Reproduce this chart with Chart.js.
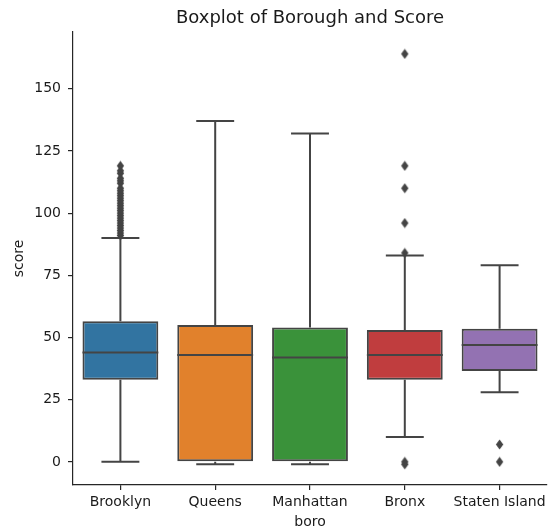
<!DOCTYPE html>
<html>
<head>
<meta charset="utf-8">
<script src="https://cdn.jsdelivr.net/npm/chart.js@4.4.1/dist/chart.umd.min.js"></script>
<style>
  html, body { margin: 0; padding: 0; background: #ffffff; }
  #wrap { width: 553px; height: 529px; }
</style>
</head>
<body>
<div id="wrap"><canvas id="chart" width="553" height="529"></canvas></div>
<script>
// Inspection scores by borough: five-number summaries and fliers
const categories = ['Brooklyn', 'Queens', 'Manhattan', 'Bronx', 'Staten Island'];
const whiskerLow  = [0, -1, -1, 10, 28];
const q1          = [33, 0, 0, 33, 36.5];
const median      = [44, 43, 42, 43, 47];
const q3          = [56.5, 55, 54, 53, 53.5];
const whiskerHigh = [90, 137, 132, 83, 79];

const outliersBrooklyn = [91, 92, 93, 94, 95, 96, 97, 98, 99, 100, 101, 102, 103, 104, 105, 106, 107, 108, 109, 110, 112, 113, 114, 116, 117, 119];
const outliersQueens = [];
const outliersManhattan = [];
const outliersBronx = [164, 119, 110, 96, 84, 0, -1];
const outliersStaten = [7, 0];

const yTicks = [0, 25, 50, 75, 100, 125, 150];
const yMin = -9.3;
const yMax = 172.8;

const boxColors = ['#3274a1', '#e1812c', '#3a923a', '#c03d3e', '#9372b2'];
const lineGray = '#444444';
const axisColor = '#262626';
const fontFamily = '"DejaVu Sans", Verdana, sans-serif';

const outlierGroups = [outliersBrooklyn, outliersQueens, outliersManhattan, outliersBronx, outliersStaten];
const outlierPoints = [];
outlierGroups.forEach((vals, i) => vals.forEach(v => outlierPoints.push({ x: categories[i], y: v })));

// thin diamond marker used for fliers
function makeDiamond() {
  const c = document.createElement('canvas');
  const w = 9, h = 11;
  c.width = w; c.height = h;
  const g = c.getContext('2d');
  g.fillStyle = lineGray;
  g.beginPath();
  g.moveTo(w / 2, 0.5);
  g.lineTo(w - 0.8, h / 2);
  g.lineTo(w / 2, h - 0.5);
  g.lineTo(0.8, h / 2);
  g.closePath();
  g.fill();
  return c;
}
const diamond = makeDiamond();

// whiskers + caps underneath the boxes, medians on top
const boxParts = {
  id: 'boxParts',
  beforeDatasetsDraw(chart) {
    const { ctx, scales: { x, y } } = chart;
    const band = x.getPixelForValue(1) - x.getPixelForValue(0);
    const capHalf = band * 0.2;
    ctx.save();
    ctx.strokeStyle = lineGray;
    ctx.lineWidth = 2;
    categories.forEach((c, i) => {
      const px = x.getPixelForValue(i);
      const lo = y.getPixelForValue(whiskerLow[i]);
      const hi = y.getPixelForValue(whiskerHigh[i]);
      const b1 = y.getPixelForValue(q1[i]);
      const b3 = y.getPixelForValue(q3[i]);
      ctx.beginPath();
      ctx.moveTo(px, b1); ctx.lineTo(px, lo);
      ctx.moveTo(px, b3); ctx.lineTo(px, hi);
      ctx.moveTo(px - capHalf, lo); ctx.lineTo(px + capHalf, lo);
      ctx.moveTo(px - capHalf, hi); ctx.lineTo(px + capHalf, hi);
      ctx.stroke();
    });
    ctx.restore();
  },
  afterDatasetDraw(chart, args) {
    if (args.index !== 0) return;
    const { ctx, scales: { y } } = chart;
    const meta = chart.getDatasetMeta(0);
    ctx.save();
    ctx.strokeStyle = lineGray;
    ctx.lineWidth = 2;
    meta.data.forEach((bar, i) => {
      const half = bar.width / 2;
      const py = y.getPixelForValue(median[i]);
      ctx.beginPath();
      ctx.moveTo(bar.x - half, py);
      ctx.lineTo(bar.x + half, py);
      ctx.stroke();
    });
    ctx.restore();
  }
};

new Chart(document.getElementById('chart'), {
  type: 'bar',
  data: {
    labels: categories,
    datasets: [
      {
        type: 'bar',
        data: categories.map((c, i) => [q1[i], q3[i]]),
        backgroundColor: boxColors,
        borderColor: lineGray,
        borderWidth: 2,
        borderSkipped: false,
        barPercentage: 0.8,
        categoryPercentage: 1.0,
        order: 2
      },
      {
        type: 'scatter',
        data: outlierPoints,
        pointStyle: diamond,
        pointRadius: 5,
        pointHoverRadius: 5,
        order: 1
      }
    ]
  },
  options: {
    responsive: false,
    animation: false,
    layout: { padding: { left: 0, right: 3, top: 0, bottom: 0 } },
    plugins: {
      legend: { display: false },
      tooltip: { enabled: false },
      title: {
        display: true,
        text: 'Boxplot of Borough and Score',
        fullSize: false,
        color: '#1a1a1a',
        font: { family: fontFamily, size: 18, weight: 'normal' },
        padding: { top: 8, bottom: 2.4 }
      }
    },
    scales: {
      x: {
        type: 'category',
        offset: true,
        grid: { display: true, drawOnChartArea: false, drawTicks: true, tickLength: 5, offset: false, color: axisColor, lineWidth: 1.2 },
        border: { display: true, color: axisColor, width: 1.2 },
        ticks: { color: '#1a1a1a', padding: 4, font: { family: fontFamily, size: 14 }, maxRotation: 0, autoSkip: false },
        title: { display: true, text: 'boro', color: '#1a1a1a', font: { family: fontFamily, size: 14 }, padding: { top: 0, bottom: -1.5 } },
        afterFit(scale) { scale.height = 44; }
      },
      y: {
        type: 'linear',
        min: yMin,
        max: yMax,
        afterBuildTicks(scale) { scale.ticks = yTicks.map(v => ({ value: v })); },
        grid: { display: true, drawOnChartArea: false, drawTicks: true, tickLength: 5, color: axisColor, lineWidth: 1.2 },
        border: { display: true, color: axisColor, width: 1.2 },
        ticks: { color: '#1a1a1a', padding: 7, font: { family: fontFamily, size: 14 } },
        title: { display: true, text: 'score', color: '#1a1a1a', font: { family: fontFamily, size: 14 }, padding: { top: 10.5, bottom: 4 } },
        afterFit(scale) { scale.width = 73; }
      }
    }
  },
  plugins: [boxParts]
});
</script>
</body>
</html>
